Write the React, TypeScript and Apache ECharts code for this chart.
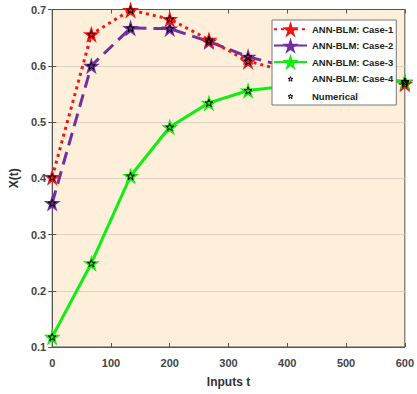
import React, { useEffect, useRef } from "react";
import * as echarts from "echarts";

const inputsT = [0, 66.67, 133.33, 200, 266.67, 333.33, 400, 466.67, 533.33, 600];
const case1 = [0.402, 0.656, 0.699, 0.683, 0.646, 0.608, 0.59, 0.584, 0.576, 0.568];
const case2 = [0.356, 0.6, 0.667, 0.666, 0.643, 0.616, 0.598, 0.59, 0.58, 0.571];
const case3 = [0.118, 0.249, 0.404, 0.491, 0.534, 0.556, 0.564, 0.568, 0.57, 0.572];
const case4 = [0.118, 0.249, 0.404, 0.491, 0.534, 0.556, 0.564, 0.568, 0.57, 0.572];
const numerical1 = [0.402, 0.656, 0.699, 0.683, 0.646, 0.608, 0.59, 0.584, 0.576, 0.568];
const numerical2 = [0.356, 0.6, 0.667, 0.666, 0.643, 0.616, 0.598, 0.59, 0.58, 0.571];
const yTicks = [0.1, 0.2, 0.3, 0.4, 0.5, 0.6, 0.7];
const xTicks = [0, 100, 200, 300, 400, 500, 600];

const STAR_D = "M50,0 L61.2,34.5 L97.6,34.5 L68.2,55.9 L79.4,90.5 L50,69.1 L20.6,90.5 L31.8,55.9 L2.4,34.5 L38.8,34.5 Z";
const STAR = "path://" + STAR_D;
const SMALL_STAR = "path://M-110,-115 M210,205 " + STAR_D;

const pairs = (ys: number[]) => inputsT.map((x, i) => [x, ys[i]]);
const FONT = "Arial, Liberation Sans, sans-serif";

export default function App() {
  const ref = useRef<HTMLDivElement>(null);
  useEffect(() => {
    const chart = echarts.init(ref.current!, undefined, { renderer: "svg" });
    const tickFont = { color: "#444", fontSize: 11, fontWeight: "bold" as const, fontFamily: FONT };
    const hollow = { color: "rgba(0,0,0,0)", borderColor: "#000", borderWidth: 1 };
    const smallStar = (name: string, ys: number[]) => ({
      name,
      type: "line",
      data: pairs(ys),
      symbol: SMALL_STAR,
      symbolSize: 26,
      itemStyle: hollow,
      lineStyle: { width: 0, opacity: 0 },
      z: 5,
    });
    const frameAxis = {
      axisLine: { show: true, lineStyle: { color: "#555" } },
      axisTick: { show: true, inside: true, length: 4, lineStyle: { color: "#555" } },
    };
    chart.setOption({
      animation: false,
      backgroundColor: "#fff",
      grid: { left: 47, right: 9, top: 9.5, bottom: 47, show: true, backgroundColor: "#FDEFDA", borderColor: "#555", borderWidth: 1 },
      xAxis: [
        {
          type: "value",
          min: xTicks[0],
          max: xTicks[xTicks.length - 1],
          interval: 100,
          name: "Inputs t",
          nameLocation: "middle",
          nameGap: 29,
          nameTextStyle: { color: "#333", fontSize: 12, fontWeight: "bold", fontFamily: FONT },
          ...frameAxis,
          axisLabel: { ...tickFont, margin: 10 },
          splitLine: { show: false },
        },
        {
          type: "value",
          position: "top",
          min: xTicks[0],
          max: xTicks[xTicks.length - 1],
          interval: 100,
          ...frameAxis,
          axisLabel: { show: false },
          splitLine: { show: false },
        },
      ],
      yAxis: [
        {
          type: "value",
          min: yTicks[0],
          max: yTicks[yTicks.length - 1],
          interval: 0.1,
          name: "X(t)",
          nameLocation: "middle",
          nameGap: 28,
          nameTextStyle: { color: "#333", fontSize: 12, fontWeight: "bold", fontFamily: FONT },
          ...frameAxis,
          axisLabel: { ...tickFont, margin: 6, formatter: (v: number) => v.toFixed(1) },
          splitLine: { show: true, lineStyle: { color: "#ddd3c4", width: 1 } },
        },
        {
          type: "value",
          position: "right",
          min: yTicks[0],
          max: yTicks[yTicks.length - 1],
          interval: 0.1,
          ...frameAxis,
          axisLabel: { show: false },
          splitLine: { show: false },
        },
      ],
      legend: {
        orient: "vertical",
        left: 272,
        top: 20,
        z: 20,
        padding: [1, 3, 0, 1],
        itemWidth: 33,
        itemHeight: 20.5,
        itemGap: 0,
        backgroundColor: "#fff",
        borderColor: "#777",
        borderWidth: 1,
        textStyle: { color: "#222", fontSize: 9.5, fontWeight: "bold", fontFamily: FONT },
        data: [
          "ANN-BLM: Case-1",
          "ANN-BLM: Case-2",
          "ANN-BLM: Case-3",
          { name: "ANN-BLM: Case-4", itemStyle: hollow },
          { name: "Numerical", itemStyle: hollow },
        ],
      },
      series: [
        {
          name: "ANN-BLM: Case-2",
          type: "line",
          data: pairs(case2),
          symbol: STAR,
          symbolSize: 17,
          itemStyle: { color: "#7030A0" },
          lineStyle: { color: "#7030A0", width: 3, type: [13, 7] },
          z: 2,
        },
        {
          name: "ANN-BLM: Case-1",
          type: "line",
          data: pairs(case1),
          symbol: STAR,
          symbolSize: 17,
          itemStyle: { color: "#ff1010" },
          lineStyle: { color: "#ff1010", width: 3, type: [3, 4] },
          z: 3,
        },
        {
          name: "ANN-BLM: Case-3",
          type: "line",
          data: pairs(case3),
          symbol: STAR,
          symbolSize: 17,
          itemStyle: { color: "#10ee10" },
          lineStyle: { color: "#10ee10", width: 3 },
          z: 4,
        },
        smallStar("ANN-BLM: Case-4", case4),
        smallStar("Numerical", numerical1),
        smallStar("Numerical", numerical2),
      ],
    });
    return () => chart.dispose();
  }, []);
  return <div ref={ref} style={{ position: "fixed", left: 0, top: 0, width: 417, height: 394 }} />;
}
